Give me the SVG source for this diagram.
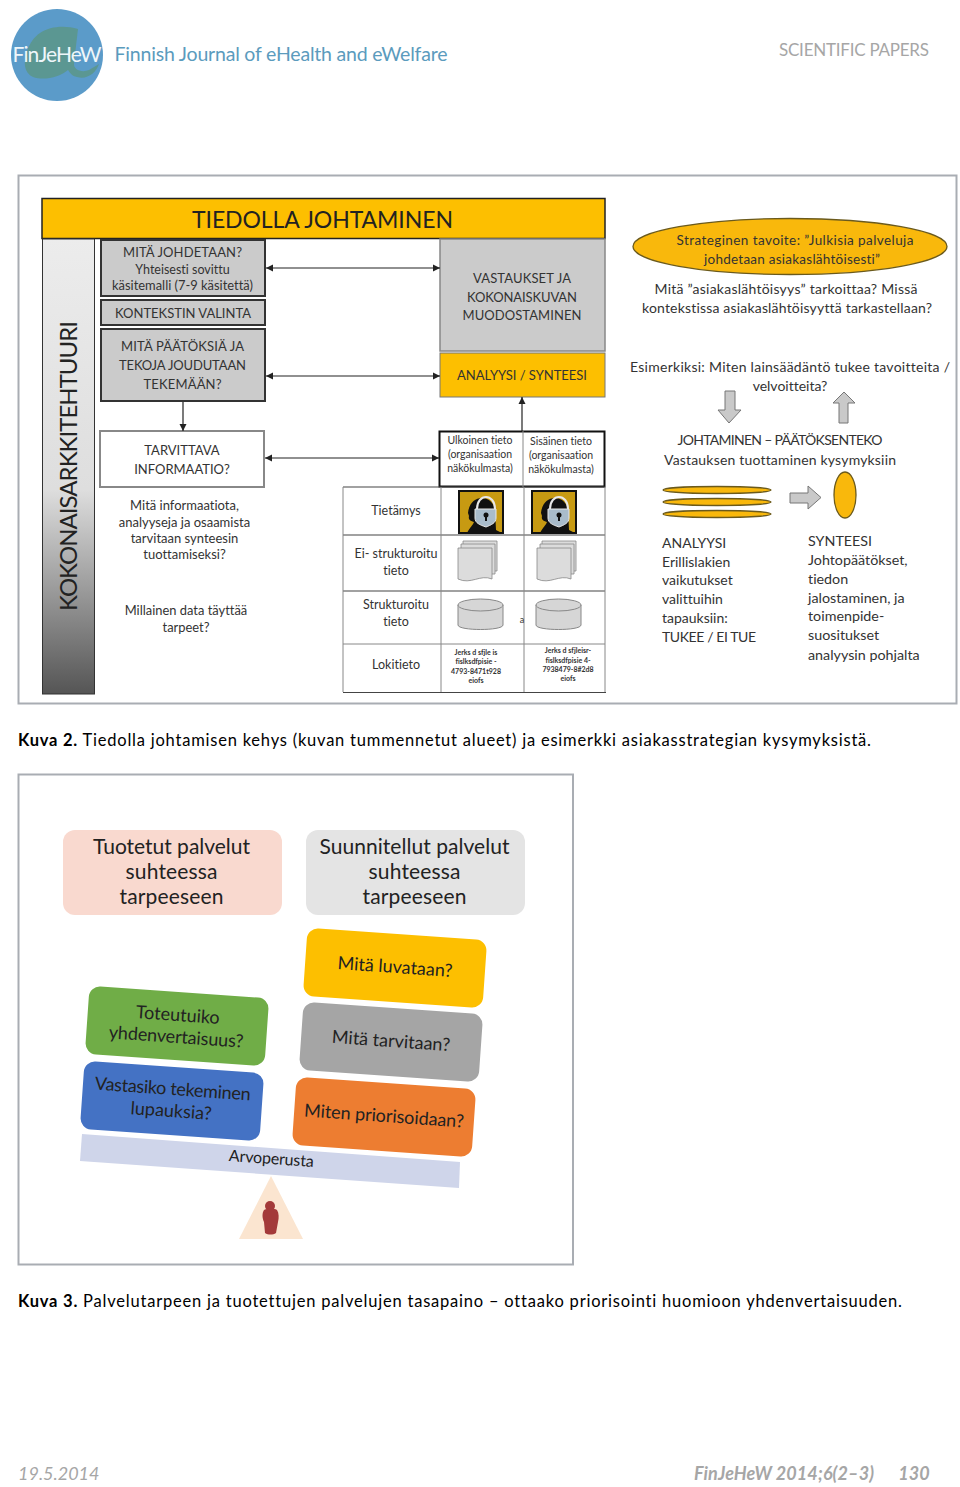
<svg xmlns="http://www.w3.org/2000/svg" width="960" height="1487" viewBox="0 0 960 1487">
<style>
text{font-family:Lato,"Liberation Sans",sans-serif;fill:#333;text-anchor:middle;font-variant-ligatures:none}
.s12{font-size:12.500px}.s128{font-size:12.900px}.s13{font-size:13px}
.l{text-anchor:start}
.cap{font-size:16.500px;fill:#000;text-anchor:start}
.tb{font-size:12.500px}
.hd{font-size:10.500px}
.mini{font-size:7px;font-weight:bold}
.gbox{fill:#cbcbcb;stroke:#333;stroke-width:2}
.y{fill:#fdbf00}
.ol{fill:#f9b80c;stroke:#6b5a1c;stroke-width:1.300}
.conn{stroke:#222;stroke-width:1.200;fill:none}
.grid{stroke:#444;stroke-width:1.100;fill:none}
.gridl{stroke:#888;stroke-width:1;fill:none}
.ga{fill:#c9c9c9;stroke:#777;stroke-width:1}
.doc{fill:#dcdcdc;stroke:#888;stroke-width:.8}
.an{font-size:14px}.sy{font-size:14.300px}
.bt{font-size:21px;fill:#222}
.rt{font-size:18px;fill:#222}
.ft{font-size:18px;font-style:italic;fill:#a6a6a6}
</style>
<defs>
<linearGradient id="bar" x1="0" y1="0" x2="0" y2="1"><stop offset="0" stop-color="#ececec"/><stop offset=".55" stop-color="#dedede"/><stop offset="1" stop-color="#555"/></linearGradient>
<marker id="a" markerWidth="7" markerHeight="7" refX="6" refY="3" orient="auto-start-reverse"><path d="M0 0L6 3L0 6z" fill="#222"/></marker>
<g id="lock"><rect x="0" y="0" width="44" height="42" fill="#c79a12" stroke="#111" stroke-width="2"/><path d="M8 42c3-6 6-8 7-11-3-1-6-2-5-6l-1-3c1-10 7-15 14-15s12 5 13 12l1 20 6 3z" fill="#111"/><path d="M18 18c0-16 18-16 18 0" fill="none" stroke="#e8e8e8" stroke-width="2"/><path d="M16 18h21v9c0 5-5 7-10 9-6-2-11-4-11-9z" fill="#a9bccb" stroke="#e8e8e8"/><circle cx="27" cy="24" r="2.500" fill="#111"/><rect x="26" y="24" width="2" height="6" fill="#111"/></g>
<g id="docs"><path class="doc" d="M5 0h34v30H5z"/><path class="doc" d="M3 3h34v30H3z"/><path class="doc" d="M0 7h34v31c-12-5-21 6-34 0z"/></g>
<g id="db"><path d="M0 6v20c0 6 45 6 45 0V6z" fill="#d6d6d6" stroke="#888"/><ellipse cx="22.500" cy="6" rx="22.500" ry="6" fill="#d6d6d6" stroke="#888"/></g>
</defs>
<rect width="960" height="1487" fill="#fff"/>

<g id="logo">
<circle cx="57" cy="55" r="46" fill="#5b9bc9"/>
<path d="M40 33c10-7 25-8 38-4l-4 34c-1 7 8 10 15 7l10-6c-3 9-12 16-22 13-5-1-7-4-9-7-8 7-24 11-35 7-9-4-10-15-6-26 3-8 7-14 13-18z" fill="#5b9792"/>
<text x="57" y="62" style="font-size:21px;fill:#eef6fa" textLength="89">FinJeHeW</text>
<text x="281" y="61" style="font-size:19.500px;fill:#5b9bbd" textLength="333">Finnish Journal of eHealth and eWelfare</text>
</g>
<text id="section" x="854" y="56" style="font-size:17px;fill:#a6a6a6" textLength="150">SCIENTIFIC PAPERS</text>

<rect id="frame1" x="18.500" y="175.500" width="938" height="528" fill="#fff" stroke="#a9adb3" stroke-width="2"/>
<g id="title"><rect x="42" y="198.500" width="563" height="40" class="y" stroke="#222" stroke-width="1.500"/><text x="322.500" y="228" style="font-size:23px;fill:#222" textLength="261">TIEDOLLA JOHTAMINEN</text></g>
<g id="arch"><rect x="42.500" y="239" width="52" height="455" fill="url(#bar)" stroke="#333" stroke-width="1"/><text transform="translate(77 466) rotate(-90)" style="font-size:24px;fill:#222" textLength="290">KOKONAISARKKITEHTUURI</text></g>

<g id="n1"><rect x="101" y="240" width="164" height="56" class="gbox"/><text x="182.500" y="257" class="s13" textLength="119">MITÄ JOHDETAAN?</text><text x="182.500" y="274" class="s12">Yhteisesti sovittu</text><text x="182.500" y="290" class="s128">käsitemalli (7-9 käsitettä)</text></g>
<g id="n2"><rect x="101" y="300" width="164" height="25" class="gbox"/><text x="183" y="318" class="s13" textLength="136">KONTEKSTIN VALINTA</text></g>
<g id="n3"><rect x="101" y="329" width="164" height="72" class="gbox"/><text x="182.500" y="351" class="s13" textLength="123">MITÄ PÄÄTÖKSIÄ  JA</text><text x="182.500" y="370" class="s13" textLength="127">TEKOJA JOUDUTAAN</text><text x="182.500" y="389" class="s13" textLength="78">TEKEMÄÄN?</text></g>
<g id="n4"><rect x="100" y="431" width="164" height="56" fill="#fff" stroke="#888" stroke-width="2"/><text x="182" y="455" class="s13">TARVITTAVA</text><text x="182" y="474" class="s13">INFORMAATIO?</text></g>
<g id="n5"><text x="184.500" y="510" class="s13">Mitä informaatiota,</text><text x="184.500" y="527" class="s13">analyyseja ja osaamista</text><text x="184.500" y="543" class="s13">tarvitaan synteesin</text><text x="184.500" y="559" class="s13">tuottamiseksi?</text></g>
<g id="n6"><text x="186" y="615" class="s128">Millainen data täyttää</text><text x="186" y="632" class="s128">tarpeet?</text></g>
<g id="n7"><rect x="440" y="239" width="165" height="112" class="gbox" style="stroke:#888;stroke-width:1.500"/><text x="522" y="283" class="s13" textLength="98">VASTAUKSET JA</text><text x="522" y="302" class="s13" textLength="110">KOKONAISKUVAN</text><text x="522" y="320" class="s13" textLength="119">MUODOSTAMINEN</text></g>
<g id="n8"><rect x="440" y="353" width="165" height="44" class="y" stroke="#777"/><text x="522" y="380" class="s13" textLength="130">ANALYYSI / SYNTEESI</text></g>
<g id="connectors">
<path class="conn" marker-start="url(#a)" marker-end="url(#a)" d="M266 268H440"/>
<path class="conn" marker-start="url(#a)" marker-end="url(#a)" d="M266 376H440"/>
<path class="conn" marker-start="url(#a)" marker-end="url(#a)" d="M265 458H439"/>
<path class="conn" marker-end="url(#a)" d="M183 402V431"/>
<path class="conn" marker-end="url(#a)" d="M522 431V397"/>
</g>
<g id="table">
<rect x="439.500" y="431.500" width="165" height="55" fill="#fff" stroke="#111" stroke-width="2"/>
<path class="grid" d="M343 487H605M343 535H605M343 591H605M343 692.500H606"/>
<path class="gridl" d="M523 431V487M524 487V692M343 487V692M441 487V692M605 487V692M343 644H605"/>
<text x="480" y="444" class="hd">Ulkoinen tieto</text><text x="480" y="458" class="hd">(organisaation</text><text x="480" y="472" class="hd">näkökulmasta)</text>
<text x="561" y="445" class="hd">Sisäinen tieto</text><text x="561" y="459" class="hd">(organisaation</text><text x="561" y="473" class="hd">näkökulmasta)</text>
<text x="396" y="515" class="tb">Tietämys</text>
<text x="396" y="558" class="tb">Ei- strukturoitu</text><text x="396" y="575" class="tb">tieto</text>
<text x="396" y="609" class="tb">Strukturoitu</text><text x="396" y="626" class="tb">tieto</text>
<text x="396" y="669" class="tb">Lokitieto</text>
<use href="#lock" x="459" y="491"/><use href="#lock" x="532" y="491"/>
<use href="#docs" x="458" y="541"/><use href="#docs" x="537" y="541"/>
<use href="#db" x="458" y="599"/><use href="#db" x="536" y="599"/>
<text x="522" y="623" style="font-size:9px">a</text>
<text x="476" y="655" class="mini">Jerks d sfjle is</text><text x="476" y="664" class="mini">fislksdfpisie -</text><text x="476" y="674" class="mini">4793-8471t928</text><text x="476" y="683" class="mini">eiofs</text>
<text x="568" y="653" class="mini">Jerks d sfjleisr-</text><text x="568" y="663" class="mini">fislksdfpisie 4-</text><text x="568" y="672" class="mini">7938479-8#2d8</text><text x="568" y="681" class="mini">eiofs</text>
</g>
<g id="goal"><ellipse cx="790" cy="246.500" rx="157" ry="28" class="ol"/><text x="795" y="245" style="font-size:13.500px" textLength="237">Strateginen tavoite: ”Julkisia palveluja</text><text x="792" y="264" style="font-size:13.500px" textLength="176">johdetaan asiakaslähtöisesti”</text></g>
<g id="q1"><text x="786" y="294" style="font-size:14px" textLength="263">Mitä ”asiakaslähtöisyys” tarkoittaa? Missä</text><text x="787" y="313" style="font-size:14px" textLength="290">kontekstissa asiakaslähtöisyyttä tarkastellaan?</text></g>
<g id="q2"><text x="790" y="372" style="font-size:14px" textLength="320">Esimerkiksi: Miten lainsäädäntö tukee  tavoitteita /</text><text x="790" y="391" style="font-size:14px">velvoitteita?</text></g>
<path id="down" class="ga" d="M725 391h10v19h6l-12 13-11-13h7z"/>
<path id="up" class="ga" d="M839 423v-20h-6l11-11 11 11h-7v20z"/>
<g id="q3"><text x="780" y="445" style="font-size:14px" textLength="205">JOHTAMINEN – PÄÄTÖKSENTEKO</text><text x="780" y="465" style="font-size:14px" textLength="232">Vastauksen tuottaminen kysymyksiin</text></g>
<g id="ell"><ellipse cx="717" cy="490" rx="54" ry="3.500" class="ol"/><ellipse cx="717" cy="502" rx="54" ry="3.500" class="ol"/><ellipse cx="717" cy="514" rx="54" ry="3.500" class="ol"/><path class="ga" d="M790 493h18v-7l13 11.500-13 11.500v-6h-18z"/><ellipse cx="845" cy="495" rx="11" ry="23" class="ol"/></g>
<g id="an"><text class="l an" y="548" x="662">ANALYYSI</text><text class="l an" y="567" x="662">Erillislakien</text><text class="l an" y="585" x="662">vaikutukset</text><text class="l an" y="604" x="662">valittuihin</text><text class="l an" y="623" x="662">tapauksiin:</text><text class="l an" y="642" x="662" textLength="94">TUKEE / EI TUE</text></g>
<g id="sy"><text class="l sy" y="546" x="808">SYNTEESI</text><text class="l sy" y="565" x="808">Johtopäätökset,</text><text class="l sy" y="584" x="808">tiedon</text><text class="l sy" y="603" x="808">jalostaminen, ja</text><text class="l sy" y="621" x="808">toimenpide-</text><text class="l sy" y="640" x="808">suositukset</text><text class="l sy" y="660" x="808">analyysin pohjalta</text></g>
<text id="cap2" class="cap" x="18" y="745.500" textLength="853"><tspan font-weight="bold">Kuva 2.</tspan> Tiedolla johtamisen kehys (kuvan tummennetut alueet) ja esimerkki asiakasstrategian kysymyksistä.</text>

<rect id="frame2" x="18.500" y="774.500" width="554.500" height="490" fill="#fff" stroke="#a9adb3" stroke-width="2"/>
<g id="b1"><rect x="63" y="830" width="219" height="85" rx="12" fill="#f9d9cf"/><text x="171.500" y="854" class="bt" textLength="157">Tuotetut palvelut</text><text x="171.500" y="879" class="bt" textLength="92">suhteessa</text><text x="171.500" y="904" class="bt" textLength="104">tarpeeseen</text></g>
<g id="b2"><rect x="306" y="830" width="219" height="85" rx="12" fill="#e4e4e4"/><text x="414.500" y="854" class="bt" textLength="190">Suunnitellut palvelut</text><text x="414.500" y="879" class="bt" textLength="92">suhteessa</text><text x="414.500" y="904" class="bt" textLength="104">tarpeeseen</text></g>
<g id="b3" transform="rotate(4 395 968)"><rect x="305" y="934" width="180" height="68" rx="11" fill="#fdbf00"/><text x="395" y="973" class="rt">Mitä luvataan?</text></g>
<g id="b4" transform="rotate(4 391 1042)"><rect x="301" y="1008" width="180" height="68" rx="11" fill="#a5a5a5"/><text x="391" y="1047" class="rt">Mitä tarvitaan?</text></g>
<g id="b5" transform="rotate(4 384 1117)"><rect x="294" y="1083" width="180" height="68" rx="11" fill="#ed7d31"/><text x="384" y="1122" class="rt" textLength="160">Miten priorisoidaan?</text></g>
<g id="b6" transform="rotate(4 177 1026)"><rect x="87" y="992" width="180" height="68" rx="11" fill="#70ad47"/><text x="177" y="1021" class="rt">Toteutuiko</text><text x="177" y="1043" class="rt" textLength="135">yhdenvertaisuus?</text></g>
<g id="b7" transform="rotate(4 172 1101)"><rect x="82" y="1067" width="180" height="68" rx="11" fill="#4472c4"/><text x="172" y="1095" class="rt" textLength="156">Vastasiko tekeminen</text><text x="172" y="1117" class="rt">lupauksia?</text></g>
<g id="beam"><path d="M82 1134L460 1162 459 1188 80 1161z" fill="#cfd5ea"/><text transform="translate(271 1164) rotate(4)" style="font-size:16px;fill:#222" textLength="85">Arvoperusta</text></g>
<g id="pivot"><path d="M271 1176L303 1239H239z" fill="#fbe5d0"/><circle cx="270" cy="1206" r="5" fill="#a33a3a"/><path d="M264 1210c4-2 10-2 13 0 2 3 2 8 1 12l-2 11c-3 2-8 2-11 0l-1-11c-2-4-2-9 0-12z" fill="#a33a3a"/></g>
<text id="cap3" class="cap" x="18" y="1306.500" textLength="884"><tspan font-weight="bold">Kuva 3.</tspan> Palvelutarpeen ja tuotettujen palvelujen tasapaino – ottaako priorisointi huomioon yhdenvertaisuuden.</text>
<text id="date" class="l ft" x="18" y="1480">19.5.2014</text>
<text id="foot" class="ft" x="784" y="1480" font-weight="bold" style="font-weight:bold" textLength="180">FinJeHeW 2014;6(2–3)</text>
<text id="page" class="ft" x="914" y="1480" style="font-weight:bold">130</text>
</svg>
